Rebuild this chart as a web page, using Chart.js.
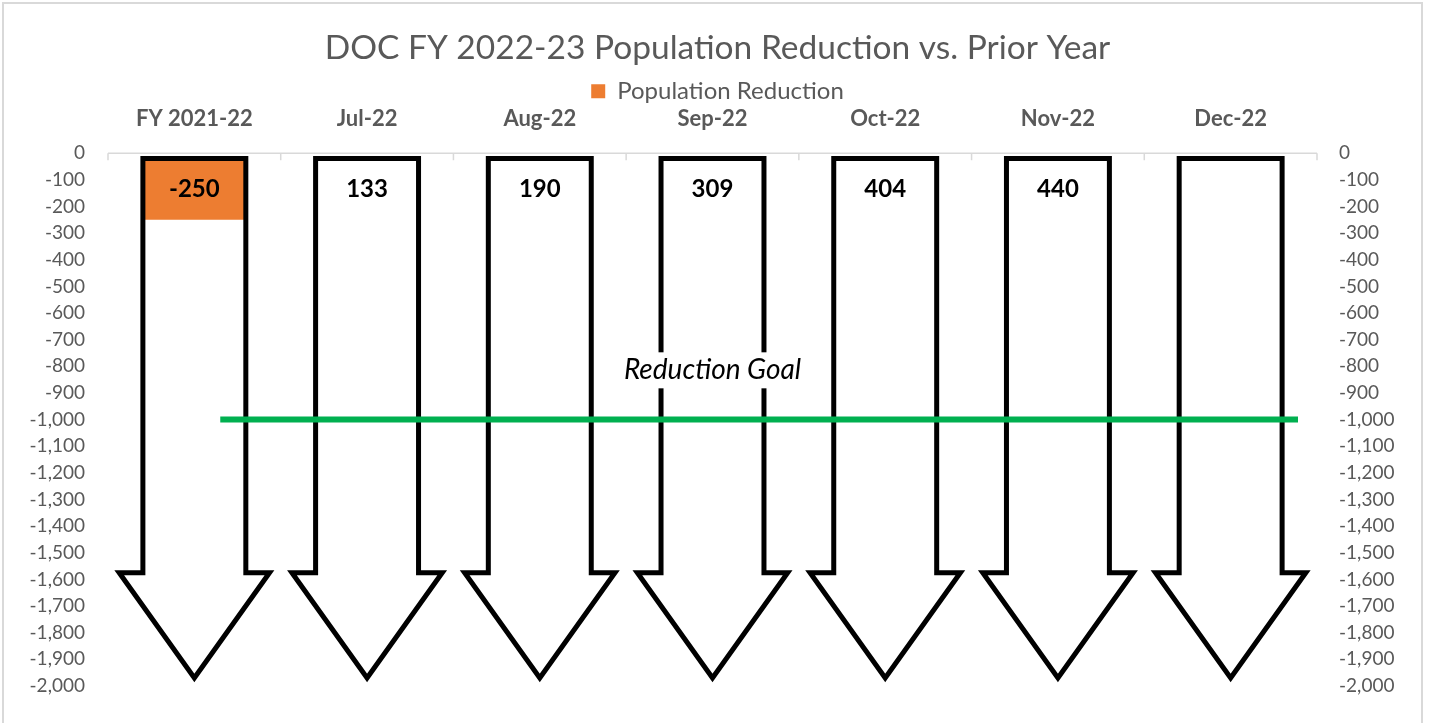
<!DOCTYPE html>
<html>
<head>
<meta charset="utf-8">
<script src="https://cdn.jsdelivr.net/npm/chart.js@4.4.0/dist/chart.umd.min.js"></script>
<style>
  html, body { margin: 0; padding: 0; background: #fff; }
  #wrap { position: relative; width: 1435px; height: 723px; }
</style>
</head>
<body>
<div id="wrap"><canvas id="chart" width="1435" height="723"></canvas></div>
<script>
// --- datos ---
const categorias = ['FY 2021-22', 'Jul-22', 'Aug-22', 'Sep-22', 'Oct-22', 'Nov-22', 'Dec-22'];
const reduccion = [-250, 133, 190, 309, 404, 440, null];

// flechas: parte superior, fin del cuerpo y punta (en unidades del eje)
const flechaArriba = [-20, -20, -20, -20, -20, -20, -20];
const flechaCuerpo = [-1575, -1575, -1575, -1575, -1575, -1575, -1575];
const flechaPunta = [-1970, -1970, -1970, -1970, -1970, -1970, -1970];

// línea de meta
const metaValor = -1000;
const metaDesde = 0.65;
const metaHasta = 6.89;

const GRIS = '#595959';
const NARANJA = '#ED7D31';
const VERDE = '#00B050';
const FUENTE = 'Lato, "Open Sans", sans-serif';

const fmt = v => Number(v).toLocaleString('en-US');

// contorno de una flecha a partir del elemento de barra
function trazarFlecha(c, el, puntaY, nuevo = true) {
    const half = el.width / 2;
    const head = half * 1.46;
    const top = Math.min(el.y, el.base);
    const fin = Math.max(el.y, el.base);
    if (nuevo) c.beginPath();
    c.moveTo(el.x - half, top);
    c.lineTo(el.x + half, top);
    c.lineTo(el.x + half, fin);
    c.lineTo(el.x + head, fin);
    c.lineTo(el.x, puntaY);
    c.lineTo(el.x - head, fin);
    c.lineTo(el.x - half, fin);
    c.closePath();
}

const flechasPlugin = {
    id: 'flechas',
    beforeDatasetDraw(chart, args) {
        const c = chart.ctx;
        const y = chart.scales.y;
        const flechas = chart.getDatasetMeta(1);
        // relleno blanco en lugar de la barra
        if (args.meta.label === 'flechas') {
            c.save();
            c.fillStyle = '#fff';
            flechas.data.forEach((el, i) => {
                trazarFlecha(c, el, y.getPixelForValue(flechaPunta[i]));
                c.fill();
            });
            c.restore();
            return false;
        }
        // la barra naranja solo se ve dentro de las flechas
        if (args.meta.label === 'Population Reduction') {
            c.save();
            c.beginPath();
            flechas.data.forEach((el, i) => trazarFlecha(c, el, y.getPixelForValue(flechaPunta[i]), false));
            c.clip();
        }
    },
    // contorno negro encima de la barra naranja
    afterDatasetDraw(chart, args) {
        if (args.meta.label !== 'Population Reduction') return;
        const c = chart.ctx;
        c.restore();
        const y = chart.scales.y;
        const meta = chart.getDatasetMeta(1);
        c.save();
        c.strokeStyle = '#000';
        c.lineWidth = 5;
        c.lineJoin = 'miter';
        c.miterLimit = 10;
        meta.data.forEach((el, i) => {
            trazarFlecha(c, el, y.getPixelForValue(flechaPunta[i]));
            c.stroke();
        });
        c.restore();
    }
};

// eje superior con marcas hacia abajo, categorías, borde exterior y textos
const extrasPlugin = {
    id: 'extras',
    beforeDraw(chart) {
        const c = chart.ctx;
        c.save();
        c.strokeStyle = '#D9D9D9';
        c.lineWidth = 2;
        c.strokeRect(3, 3, 1419, 760);
        c.restore();
    },
    beforeDatasetsDraw(chart) {
        const c = chart.ctx;
        const a = chart.chartArea;
        const x = chart.scales.x;
        const y0 = chart.scales.y.getPixelForValue(0);
        const paso = (a.right - a.left) / categorias.length;
        c.save();
        c.strokeStyle = '#D9D9D9';
        c.lineWidth = 1.5;
        c.beginPath();
        c.moveTo(a.left, y0);
        c.lineTo(a.right, y0);
        for (let i = 0; i <= categorias.length; i++) {
            const px = a.left + i * paso;
            c.moveTo(px, y0);
            c.lineTo(px, y0 + 7);
        }
        c.stroke();
        // nombres de categoría encima del eje
        c.fillStyle = GRIS;
        c.font = 'bold 22px ' + FUENTE;
        c.textAlign = 'center';
        c.textBaseline = 'middle';
        categorias.forEach((cat, i) => c.fillText(cat, x.getPixelForValue(i), a.top - 34));
        c.restore();
    },
    afterDatasetsDraw(chart) {
        const c = chart.ctx;
        const y = chart.scales.y;
        const x = chart.scales.x;
        c.save();
        c.textAlign = 'center';
        c.textBaseline = 'middle';
        c.fillStyle = '#000';
        c.font = 'bold 24px ' + FUENTE;
        reduccion.forEach((v, i) => {
            if (v === null) return;
            c.fillText(fmt(v), x.getPixelForValue(i), y.getPixelForValue(-135));
        });
        // etiqueta de la meta
        c.font = 'italic 28px ' + FUENTE;
        const tx = x.getPixelForValue(3);
        const ty = y.getPixelForValue(-815);
        const w = c.measureText('Reduction Goal').width;
        c.fillStyle = '#fff';
        c.fillRect(tx - w / 2 - 4, ty - 18, w + 8, 36);
        c.fillStyle = '#000';
        c.fillText('Reduction Goal', tx, ty);
        c.restore();
    }
};

const ctx = document.getElementById('chart').getContext('2d');
const chart = new Chart(ctx, {
    data: {
        labels: categorias,
        datasets: [
            {
                type: 'bar',
                label: 'Population Reduction',
                data: reduccion,
                backgroundColor: NARANJA,
                borderWidth: 0,
                grouped: false,
                categoryPercentage: 1,
                barPercentage: 0.596,
                order: 2
            },
            {
                type: 'bar',
                label: 'flechas',
                data: flechaArriba.map((v, i) => [v, flechaCuerpo[i]]),
                backgroundColor: 'rgba(0,0,0,0)',
                grouped: false,
                categoryPercentage: 1,
                barPercentage: 0.596,
                order: 3
            },
            {
                type: 'line',
                label: 'meta',
                xAxisID: 'xg',
                data: [{ x: metaDesde, y: metaValor }, { x: metaHasta, y: metaValor }],
                borderColor: VERDE,
                borderWidth: 6,
                pointRadius: 0,
                order: 1
            }
        ]
    },
    options: {
        responsive: false,
        animation: false,
        layout: { padding: { top: 28, bottom: 37, left: 0, right: 0 } },
        plugins: {
            title: {
                display: true,
                text: 'DOC FY 2022-23 Population Reduction vs. Prior Year',
                color: GRIS,
                font: { family: FUENTE, size: 33.5, weight: 'normal' },
                padding: { top: 0, bottom: 6 }
            },
            legend: {
                display: true,
                labels: {
                    filter: item => item.text === 'Population Reduction',
                    color: GRIS,
                    font: { family: FUENTE, size: 24 },
                    boxWidth: 14,
                    boxHeight: 14,
                    padding: 5
                }
            },
            tooltip: { enabled: false }
        },
        scales: {
            x: {
                type: 'category',
                position: 'top',
                grid: { display: false, drawTicks: false },
                border: { display: false },
                ticks: { display: false },
                afterFit: s => { s.height = 40; }
            },
            xg: {
                type: 'linear',
                display: false,
                min: 0,
                max: categorias.length
            },
            y: {
                position: 'left',
                min: -2000,
                max: 0,
                grid: { display: false, drawTicks: false },
                border: { display: false },
                ticks: {
                    stepSize: 100,
                    color: GRIS,
                    font: { family: FUENTE, size: 19 },
                    padding: 23,
                    callback: v => fmt(v)
                },
                afterFit: s => { s.width = 108; }
            },
            y2: {
                position: 'right',
                min: -2000,
                max: 0,
                grid: { display: false, drawTicks: false },
                border: { display: false },
                ticks: {
                    stepSize: 100,
                    color: GRIS,
                    font: { family: FUENTE, size: 19 },
                    padding: 22,
                    callback: v => fmt(v)
                },
                afterFit: s => { s.width = 118; }
            }
        }
    },
    plugins: [flechasPlugin, extrasPlugin]
});
</script>
</body>
</html>
